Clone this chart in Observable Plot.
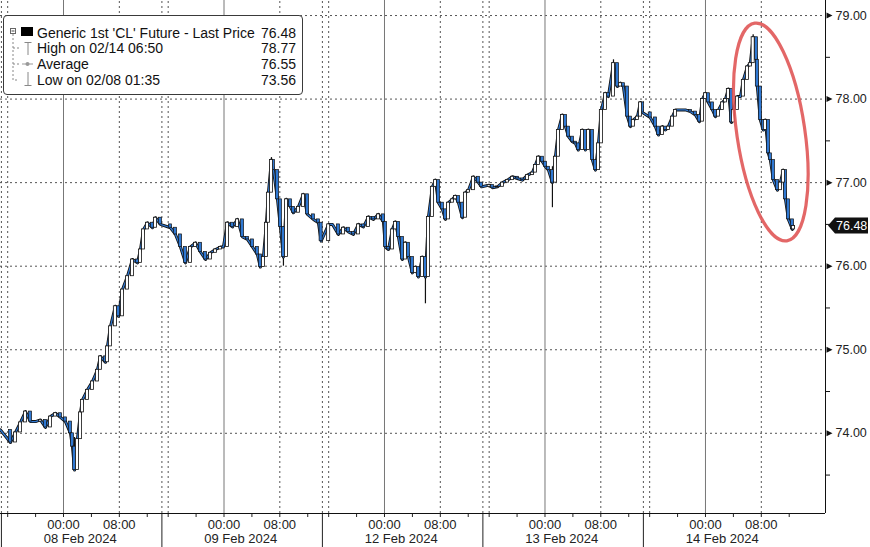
<!DOCTYPE html>
<html><head><meta charset="utf-8">
<script src="https://cdn.jsdelivr.net/npm/d3@7"></script>
<script src="https://cdn.jsdelivr.net/npm/@observablehq/plot@0.6"></script>
<style>
html,body{margin:0;padding:0;background:#fff;}
#wrap{position:relative;width:870px;height:547px;overflow:hidden;font-family:"Liberation Sans",Arial,sans-serif;}
#legend{position:absolute;left:3px;top:15px;width:300px;height:80px;box-sizing:border-box;border:1px solid #3a3a3a;border-radius:4px;background:#fff;}
.lt{position:absolute;font-size:14px;line-height:16px;color:#111;white-space:nowrap;}
#icons{position:absolute;left:0;top:0;}
</style></head><body><div id="wrap"></div>
<script>
// ---------- data ----------
const sessionDates = ["02-07","02-08","02-09","02-12","02-13","02-14"]; // session index -1..4
const dateLabels = ["08 Feb 2024","09 Feb 2024","12 Feb 2024","13 Feb 2024","14 Feb 2024"];
const hourLabels = ["00:00","08:00"];
const yTicks = [74,75,76,77,78,79];
const yMinor = [73.5,74.5,75.5,76.5,77.5,78.5];

const times = [
"02-07 13:58","02-07 16:24","02-07 17:07","02-07 17:50","02-07 18:33","02-07 19:16","02-07 19:59","02-07 20:42","02-07 21:25","02-07 22:08","02-07 22:51","02-07 23:34",
"02-08 00:17","02-08 01:00","02-08 01:17","02-08 01:35","02-08 02:00","02-08 02:26","02-08 02:43","02-08 03:26","02-08 04:09","02-08 04:52","02-08 05:18","02-08 06:01","02-08 06:18","02-08 06:44","02-08 07:26","02-08 07:52","02-08 08:27","02-08 09:10","02-08 09:53","02-08 10:36","02-08 11:02","02-08 11:28","02-08 12:02","02-08 12:45","02-08 13:11","02-08 13:53",
"02-08 16:20","02-08 17:03","02-08 17:46","02-08 18:29","02-08 19:12","02-08 19:55","02-08 20:38","02-08 21:21","02-08 22:04","02-08 22:47","02-08 23:30","02-08 23:55",
"02-09 00:30","02-09 01:13","02-09 01:56","02-09 02:39","02-09 03:22","02-09 04:05","02-09 04:47","02-09 05:13","02-09 05:39","02-09 06:05","02-09 06:22","02-09 06:48","02-09 07:05","02-09 07:40","02-09 08:05","02-09 08:31","02-09 08:57","02-09 09:31","02-09 09:57","02-09 10:40","02-09 11:23","02-09 11:58","02-09 12:49","02-09 13:32","02-09 13:55",
"02-11 16:00","02-11 16:33","02-11 17:24","02-11 18:07","02-11 18:50","02-11 19:33","02-11 20:16","02-11 20:59","02-11 21:42","02-11 22:25","02-11 23:08","02-11 23:51",
"02-12 00:08","02-12 00:34","02-12 01:08","02-12 01:34","02-12 02:00","02-12 02:34","02-12 03:00","02-12 03:26","02-12 04:00","02-12 04:26","02-12 04:52","02-12 05:26","02-12 05:52","02-12 06:18","02-12 06:52","02-12 07:18","02-12 07:44","02-12 08:18","02-12 08:44","02-12 09:10","02-12 09:44","02-12 10:10","02-12 10:36","02-12 11:10","02-12 11:36","02-12 12:02","02-12 12:45","02-12 13:28","02-12 13:55",
"02-12 16:00","02-12 16:28","02-12 17:11","02-12 17:55","02-12 18:37","02-12 19:20","02-12 20:03","02-12 20:46","02-12 21:29","02-12 22:12","02-12 22:38","02-12 23:04","02-12 23:38",
"02-13 00:04","02-13 00:30","02-13 01:04","02-13 01:30","02-13 01:56","02-13 02:30","02-13 02:56","02-13 03:22","02-13 03:56","02-13 04:22","02-13 04:47","02-13 05:22","02-13 05:48","02-13 06:14","02-13 06:48","02-13 07:14","02-13 07:40","02-13 08:05","02-13 08:40","02-13 09:05","02-13 09:49","02-13 10:23","02-13 10:49","02-13 11:14","02-13 11:49","02-13 12:15","02-13 12:40","02-13 13:15","02-13 13:41","02-13 13:58",
"02-13 16:05","02-13 16:50","02-13 17:16","02-13 17:50","02-13 18:16","02-13 18:41","02-13 19:16","02-13 19:42","02-13 20:25","02-13 21:08","02-13 21:51","02-13 22:34","02-13 23:08","02-13 23:34",
"02-14 00:00","02-14 00:25","02-14 01:00","02-14 01:26","02-14 01:52","02-14 02:26","02-14 02:52","02-14 03:17","02-14 03:43","02-14 04:01","02-14 04:35","02-14 05:01","02-14 05:26","02-14 06:01","02-14 06:26","02-14 06:50","02-14 07:18","02-14 07:26","02-14 07:52","02-14 08:18","02-14 08:35","02-14 09:01","02-14 09:18","02-14 09:44","02-14 10:19","02-14 10:44","02-14 11:10","02-14 11:28","02-14 11:53","02-14 12:28","02-14 12:36"
];
const closes = [
74.04,73.89,74.01,74.13,74.26,74.14,74.14,74.16,74.07,74.20,74.24,74.19,
74.14,74.00,73.84,73.56,73.93,74.25,74.40,74.52,74.62,74.76,74.92,74.85,75.04,75.28,75.52,75.40,75.72,75.88,76.08,76.04,76.20,76.44,76.52,76.46,76.58,76.50,
76.46,76.38,76.23,76.04,76.23,76.28,76.17,76.08,76.16,76.20,76.23,76.23,
76.52,76.47,76.56,76.35,76.32,76.23,76.14,75.99,76.11,76.52,76.88,77.27,77.15,76.80,76.47,76.11,76.80,76.71,76.64,76.71,76.86,76.62,76.56,76.52,76.30,
76.50,76.50,76.38,76.46,76.41,76.38,76.50,76.47,76.59,76.56,76.62,76.53,
76.23,76.20,76.44,76.53,76.35,76.08,76.28,76.11,75.92,75.99,75.87,76.11,75.87,76.59,76.95,77.03,76.76,76.68,76.56,76.76,76.80,76.84,76.76,76.58,76.88,76.91,77.07,77.00,76.95,
76.97,76.94,76.95,77.00,77.03,77.07,77.05,77.03,77.09,77.12,77.21,77.31,77.25,
77.19,77.15,77.00,77.31,77.63,77.81,77.67,77.55,77.49,77.47,77.39,77.63,77.39,77.63,77.27,77.15,77.47,77.87,78.07,78.03,78.43,78.15,78.19,78.15,77.79,77.67,77.75,77.79,77.96,77.84,
77.78,77.67,77.57,77.67,77.63,77.67,77.79,77.87,77.87,77.87,77.85,77.81,77.73,78.00,
78.07,77.96,77.87,77.79,77.87,77.96,78.00,78.12,77.72,77.87,78.03,78.03,78.23,78.39,78.43,78.74,78.47,78.15,77.75,77.63,77.75,77.35,77.27,77.03,76.91,77.00,77.15,76.80,76.56,76.44,76.48
];
// notable wicks (high-low extremes)
const wickTimes = ["02-08 01:35","02-09 06:48","02-09 08:31","02-12 05:52","02-13 01:04","02-13 09:49","02-14 06:50"];
const wickLows  = [73.56,76.90,76.00,75.55,76.70,78.07,78.43];
const wickHighs = [73.95,77.30,76.47,76.11,77.19,78.47,78.77];

const legendLabels = ["Generic 1st 'CL' Future - Last Price","High on 02/14 06:50","Average","Low on 02/08 01:35"];
const legendValues = ["76.48","78.77","76.55","73.56"];
const lastPrice = 76.48;

// ---------- compressed trading-session axis ----------
function toX(t){
  const [md, hm] = t.split(" ");
  const [mo, da] = md.split("-").map(Number);
  const [hh, mi] = hm.split(":").map(Number);
  const ms = Date.UTC(2024, mo-1, da, hh, mi);
  let k = -1, start = null;
  sessionDates.forEach((s,i)=>{
    const [m2,d2] = s.split("-").map(Number);
    const st = Date.UTC(2024, m2-1, d2-1, 16, 0);
    if (st <= ms) { k = i-1; start = st; }
  });
  return 23*k + (ms - start)/3600000;
}
const data = times.map((t,i)=>({x: toX(t), close: closes[i], open: i>0 ? closes[i-1] : closes[i]}));
const wicks = wickTimes.map((t,i)=>({x: toX(t), lo: wickLows[i], hi: wickHighs[i]}));

const xMin = -1.03, xMax = 117.2, yMin = 73.04, yMax = 79.18;
const sessions = d3.range(dateLabels.length);
const midX = sessions.map(k=>23*k+8);
const eightX = sessions.map(k=>23*k+16);
const boundX = sessions.flatMap(k=>[23*k-0.9, 23*k]);
const sepX = sessions.map(k=>23*k-0.9);
const tickX = sessions.flatMap(k=>[0,4,8,12,16,20].map(h=>23*k+h));
const hourTicks = sessions.flatMap(k=>hourLabels.map((l,j)=>({x: 23*k+8+8*j, l})));
const dateTicks = dateLabels.map((l,k)=>({x: 23*k+10.4, l}));
const pxPerY = 513/(yMax-yMin), pxPerX = 825/(xMax-xMin);

const blue = "#2f78d2";
const rightTri = {draw(ctx, size){ const r = Math.sqrt(size/Math.PI); ctx.moveTo(-r,-r); ctx.lineTo(r,0); ctx.lineTo(-r,r); ctx.closePath(); }};

const plot = Plot.plot({
  width: 870, height: 547, marginLeft: 0, marginRight: 45, marginTop: 0, marginBottom: 34,
  x: {domain: [xMin, xMax], axis: null},
  y: {domain: [yMin, yMax], axis: null},
  style: {fontFamily: "'Liberation Sans', Arial, sans-serif", background: "white", overflow: "visible"},
  marks: [
    Plot.ruleY(yTicks, {x1: xMin, x2: xMax, stroke: "#555", strokeDasharray: "2,3"}),
    Plot.ruleX(midX, {y1: yMin, y2: yMax, stroke: "#777"}),
    Plot.ruleX(eightX, {y1: yMin, y2: yMax, stroke: "#555", strokeDasharray: "2,3"}),
    Plot.ruleX(boundX, {y1: yMin, y2: yMax, stroke: "#555", strokeDasharray: "2,3"}),
    Plot.ruleX(sepX, {y1: yMin, y2: yMin - 34/pxPerY, stroke: "#222"}),
    Plot.ruleX(tickX, {y1: yMin, y2: yMin - 4/pxPerY, stroke: "#222"}),
    Plot.ruleY([yMin], {x1: xMin, x2: xMax, stroke: "#111"}),
    Plot.ruleX([xMax], {y1: yMin, y2: yMax, stroke: "#111"}),
    Plot.ruleY(yMinor, {x1: xMax, x2: xMax + 5/pxPerX, stroke: "#111"}),
    Plot.dot(yTicks, {x: xMax, y: d=>d, symbol: rightTri, r: 3, fill: "#111", stroke: null, dx: 4}),
    Plot.text(yTicks, {x: xMax, y: d=>d, text: d=>d.toFixed(2), dx: 10, textAnchor: "start", fontSize: 12.5, fill: "#222"}),
    Plot.text(hourTicks, {x: "x", y: yMin, text: "l", dy: 11, fontSize: 13, fill: "#222"}),
    Plot.text(dateTicks, {x: "x", y: yMin, text: "l", dy: 25, fontSize: 13, fill: "#222"}),
    // price trace
    Plot.ruleX(wicks, {x: "x", y1: "lo", y2: "hi", stroke: "#111", strokeWidth: 1.2}),
    Plot.line(data, {x: "x", y: "close", stroke: "#111", strokeWidth: 3}),
    Plot.line(data, {x: "x", y: "close", stroke: blue, strokeWidth: 1.3}),
    Plot.rect(data.filter(d=>d.close < d.open), {x1: d=>d.x-0.22, x2: d=>d.x+0.22, y1: "open", y2: "close", fill: blue, stroke: "#111", strokeWidth: 0.7}),
    Plot.rect(data.filter(d=>d.close >= d.open), {x1: d=>d.x-0.22, x2: d=>d.x+0.22, y1: "open", y2: "close", fill: "white", stroke: "#111", strokeWidth: 0.8})
  ]
});

const wrap = document.getElementById("wrap");
wrap.appendChild(plot);
const xs = plot.scale("x"), ys = plot.scale("y");
const svg = d3.select(plot);

// red ellipse annotation
const cx = xs.apply(toX("02-14 09:26")), cy = ys.apply(77.60);
svg.append("ellipse").attr("cx", cx).attr("cy", cy).attr("rx", 34).attr("ry", 110)
  .attr("transform", `rotate(-8.4 ${cx} ${cy})`)
  .attr("fill", "none").attr("stroke", "#e05656").attr("stroke-width", 3.2).attr("opacity", 0.9);

// last price tag
const yl = ys.apply(lastPrice), xl = xs.apply(xMax);
svg.append("path").attr("d", `M${xl+3},${yl} L${xl+10},${yl-8} L${xl+43},${yl-8} L${xl+43},${yl+8} L${xl+10},${yl+8} Z`).attr("fill", "#111");
svg.append("text").attr("x", xl+11).attr("y", yl).attr("dy", "0.35em").attr("fill", "white").attr("text-anchor", "start")
  .attr("font-size", 12.5).attr("font-family", "'Liberation Sans', Arial, sans-serif").text(lastPrice.toFixed(2));

// legend
const lg = document.createElement("div"); lg.id = "legend"; wrap.appendChild(lg);
const centers = [32.5, 48, 64, 80];
legendLabels.forEach((l,i)=>{
  const a = document.createElement("div"); a.className = "lt"; a.textContent = l;
  a.style.left = "37px"; a.style.top = (centers[i]-8) + "px"; wrap.appendChild(a);
  const b = document.createElement("div"); b.className = "lt"; b.textContent = legendValues[i];
  b.style.right = (870-296) + "px"; b.style.top = (centers[i]-8) + "px"; wrap.appendChild(b);
});
const ic = d3.select(wrap).append("svg").attr("id","icons").attr("width", 40).attr("height", 100);
ic.append("path").attr("d","M13,34 V80 H19 M13,48 H19 M13,64 H19").attr("stroke","#888").attr("fill","none").attr("stroke-dasharray","2,2");
ic.append("rect").attr("x",10.5).attr("y",28.5).attr("width",5).attr("height",5).attr("fill","white").attr("stroke","#666");
ic.append("path").attr("d","M11.5,31 H14.5").attr("stroke","#444");
ic.append("rect").attr("x",21).attr("y",27).attr("width",12).attr("height",9).attr("fill","#000");
ic.append("path").attr("d","M24.5,42.5 H31.5 M28,42.5 V55").attr("stroke","#888").attr("fill","none");
ic.append("path").attr("d","M22,64 H33").attr("stroke","#999").attr("fill","none");
ic.append("circle").attr("cx",27.5).attr("cy",64).attr("r",2).attr("fill","#999");
ic.append("path").attr("d","M28,72 V85.5 M24.5,85.5 H31.5").attr("stroke","#888").attr("fill","none");
</script></body></html>
